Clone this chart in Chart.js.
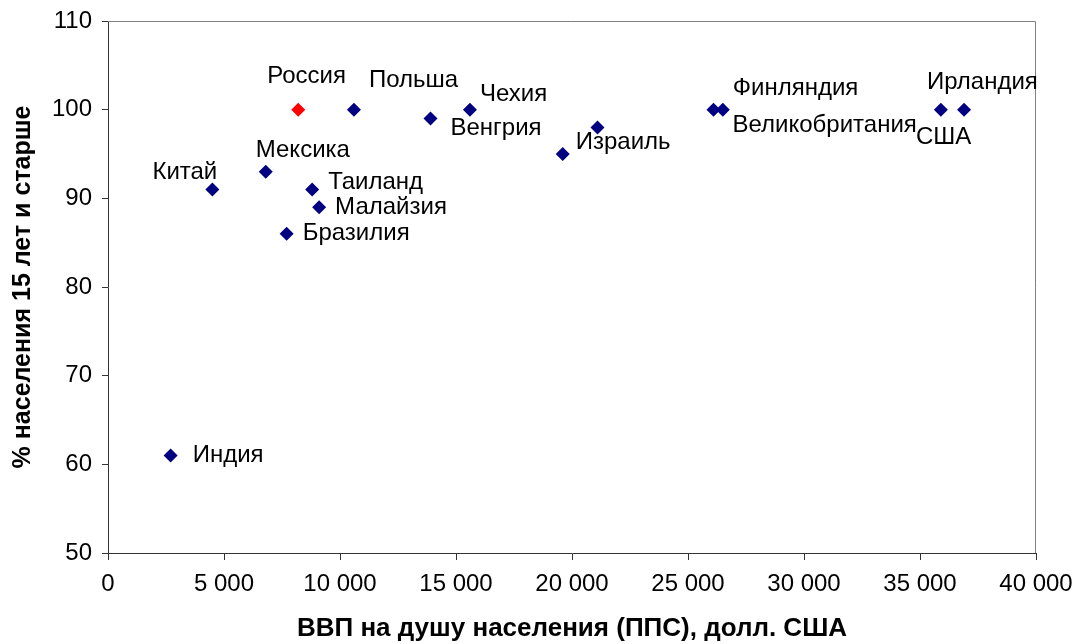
<!DOCTYPE html>
<html>
<head>
<meta charset="utf-8">
<script src="https://cdn.jsdelivr.net/npm/chart.js@4/dist/chart.umd.min.js"></script>
<style>
  html, body { margin: 0; padding: 0; background: #fff; }
  #wrap { width: 1077px; height: 644px; position: relative; }
</style>
</head>
<body>
<div id="wrap"><canvas id="literacyChart"></canvas></div>
<script>
// data
const countries = ['Индия', 'Китай', 'Мексика', 'Бразилия', 'Россия', 'Таиланд', 'Малайзия',
  'Польша', 'Венгрия', 'Чехия', 'Израиль', '', 'Великобритания', 'Финляндия', 'США', 'Ирландия'];
const gdpPerCapita = [2700, 4500, 6800, 7700, 8200, 8800, 9100,
  10600, 13900, 15600, 19600, 21100, 26100, 26500, 35900, 36900];
const literacy = [61, 91, 93, 86, 100, 91, 89,
  100, 99, 100, 95, 98, 100, 100, 100, 100];
const highlighted = 'Россия';

// label placement relative to its point (px): left edge of text, vertical centre
const labelDx = [22, -60, -10, 16, -31, 16, 16, 15, 20, 10, 13, 0, 19, 10, -25, -37];
const labelDy = [0, -17, -21, 0, -33, -7, 0, -29, 10, -15, -12, 0, 16, -21, 28, -27];

const FONT = "'Liberation Sans', Arial, sans-serif";

const points = gdpPerCapita.map((g, i) => ({ x: g, y: literacy[i] }));
const pointColors = countries.map(c => c === highlighted ? '#FF0000' : '#000080');

const fmt = v => String(v).replace(/\B(?=(\d{3})+(?!\d))/g, ' ');

const frame = {
  id: 'frame',
  beforeDatasetsDraw(chart) {
    const { ctx, chartArea: a } = chart;
    ctx.save();
    ctx.strokeStyle = '#808080';
    ctx.lineWidth = 1;
    ctx.beginPath();
    ctx.moveTo(a.left, a.top + 0.5);
    ctx.lineTo(a.right - 0.5, a.top + 0.5);
    ctx.lineTo(a.right - 0.5, a.bottom);
    ctx.stroke();
    ctx.restore();
  }
};

const pointLabels = {
  id: 'pointLabels',
  afterDatasetsDraw(chart) {
    const { ctx } = chart;
    const meta = chart.getDatasetMeta(0);
    ctx.save();
    ctx.font = '24px ' + FONT;
    ctx.fillStyle = '#000';
    ctx.textAlign = 'left';
    ctx.textBaseline = 'middle';
    meta.data.forEach((el, i) => {
      if (!countries[i]) return;
      ctx.fillText(countries[i], el.x + labelDx[i], el.y + labelDy[i]);
    });
    ctx.restore();
  }
};

new Chart(document.getElementById('literacyChart'), {
  type: 'scatter',
  data: {
    datasets: [{
      data: points,
      pointStyle: 'rectRot',
      pointRadius: 7,
      pointBackgroundColor: pointColors,
      pointBorderColor: pointColors,
      pointBorderWidth: 0
    }]
  },
  options: {
    responsive: true,
    maintainAspectRatio: false,
    animation: false,
    layout: { padding: { top: 21, right: 41, left: 0, bottom: 0 } },
    plugins: { legend: { display: false }, tooltip: { enabled: false } },
    scales: {
      x: {
        type: 'linear',
        min: 0, max: 40000,
        afterFit: s => { s.height = 91; s.paddingLeft = 0; s.paddingRight = 0; },
        ticks: { stepSize: 5000, callback: v => fmt(v), color: '#000',
                 font: { family: FONT, size: 24 }, padding: 10, maxRotation: 0 },
        grid: { drawOnChartArea: false, drawTicks: true, tickLength: 7, color: '#333' },
        border: { color: '#333', width: 1 },
        title: { display: true, text: 'ВВП на душу населения (ППС), долл. США', color: '#000',
                 font: { family: FONT, size: 26, weight: 'bold' }, padding: { top: 12, bottom: 0 } }
      },
      y: {
        min: 50, max: 110,
        afterFit: s => { s.width = 108; s.paddingTop = 0; s.paddingBottom = 0; },
        ticks: { stepSize: 10, color: '#000', font: { family: FONT, size: 24 }, padding: 10 },
        grid: { drawOnChartArea: false, drawTicks: true, tickLength: 6, color: '#333' },
        border: { color: '#333', width: 1 },
        title: { display: true, text: '% населения 15 лет и старше', color: '#000',
                 font: { family: FONT, size: 25, weight: 'bold' }, padding: { top: 8, bottom: 0 } }
      }
    }
  },
  plugins: [frame, pointLabels]
});
</script>
</body>
</html>
